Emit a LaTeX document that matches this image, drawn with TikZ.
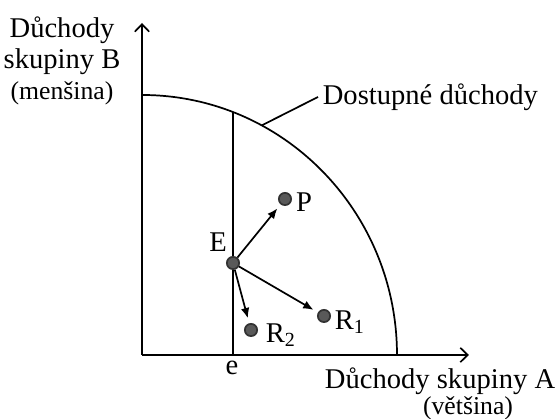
\documentclass[tikz,border=0pt]{standalone}
\usepackage{fontspec}
\setmainfont{Liberation Serif}
\usetikzlibrary{arrows.meta}

\begin{document}
\begin{tikzpicture}[x=0.35pt,y=0.35pt]
\tikzstyle{every path}=[line width=0.6pt]
\tikzstyle{dot}=[circle,draw=black!80,fill=black!65,inner sep=0pt,minimum size=4.3pt]
\tikzstyle{move}=[-{Latex[length=3.6pt,width=3pt]},shorten >=1.8pt]
\tikzstyle{axis}=[-{Straight Barb[length=2.6pt,width=5pt]}]
\tikzstyle{txt}=[inner sep=0pt]
\useasboundingbox (0,0) rectangle (556,419);

% axes and frontier
\coordinate (O) at (142,64);
\coordinate (ytop) at (142,396);
\coordinate (xend) at (469,64);
\draw[axis] (O)--(ytop);
\draw[axis] (O)--(xend);
\draw (142,324) arc[start angle=90,end angle=0,x radius=255,y radius=260];
\coordinate (e) at (233,64);
\coordinate (etop) at (233,307);
\draw (e)--(etop);
\coordinate (touch) at ([shift={(142,64)}]62:255 and 260);
\coordinate (lead) at (318,322);
\draw (touch)--(lead);

% points
\node (E) at (233,156) [dot] {};
\node (P) at (285,220) [dot] {};
\node (R1) at (324,103) [dot] {};
\node (R2) at (251,89) [dot] {};
\draw[move] (E)--(P);
\draw[move] (E)--(R1);
\draw[move] (E)--(R2);

% labels
\node (Elab) at (218,177) {E};
\node (Plab) at (304,217) {P};
\node (R1lab) at (350,97) {R\textsubscript{1}};
\node (R2lab) at (281,84) {R\textsubscript{2}};
\node (elab) at (232,51) {e};
\node (frontier) at (322,322) [txt,anchor=west] {Dostupné důchody};
\node (ylab) at (62,358) [txt,align=center] {Důchody\\[-1.2pt]skupiny B\\[-1.2pt]{\small (menšina)}};
\node (xlab) at (556,38) [txt,anchor=east] {Důchody skupiny A};
\node (xsub) at (468,11) [txt] {\small (většina)};
\end{tikzpicture}
\end{document}
